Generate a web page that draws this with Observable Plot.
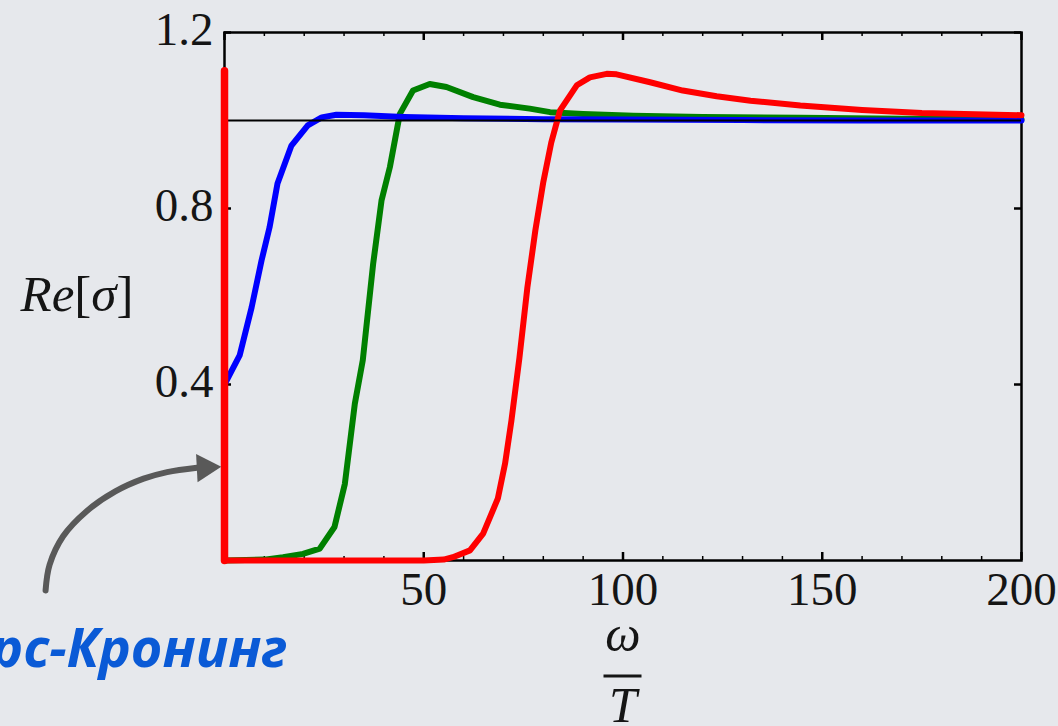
<!DOCTYPE html>
<html>
<head>
<meta charset="utf-8">
<script src="https://cdn.jsdelivr.net/npm/d3@7"></script>
<script src="https://cdn.jsdelivr.net/npm/@observablehq/plot@0.6"></script>
<style>
  html, body { margin: 0; padding: 0; background: #e6e8ec; overflow: hidden; }
  #chart svg { display: block; }
</style>
</head>
<body>
<div id="chart"></div>
<script>
// ---- data ----
const blueX  = [0, 3.8, 6.8, 9.3, 11.3, 13.3, 16.8, 20.9, 24.4, 28.1, 35, 45, 60, 80, 100, 130, 160, 200];
const blueY  = [0.40, 0.466, 0.575, 0.682, 0.757, 0.857, 0.943, 0.989, 1.007, 1.013, 1.012, 1.008, 1.005, 1.003, 1.002, 1.001, 1.0, 1.0];

const greenX = [0, 10, 14.7, 19.7, 23.9, 27.6, 30.2, 32.7, 34.7, 37.3, 39.4, 41.5, 44, 47.3, 51.5, 55.7, 62.4, 69.1, 76.6, 81.7, 90, 102.6, 120, 144.5, 170, 200];
const greenY = [0, 0.002, 0.0075, 0.015, 0.027, 0.076, 0.174, 0.356, 0.455, 0.674, 0.818, 0.894, 1.015, 1.068, 1.083, 1.076, 1.053, 1.036, 1.027, 1.019, 1.015, 1.011, 1.008, 1.006, 1.004, 1.003];

const redX   = [0, 50, 55, 57.3, 61.6, 64.9, 68.6, 70.4, 72, 74, 76, 78, 80, 82, 84.2, 88.4, 91.7, 95.9, 98.4, 106.8, 115, 123.5, 132, 144.5, 160, 175, 200];
const redY   = [0, 0, 0.002, 0.0075, 0.023, 0.061, 0.141, 0.22, 0.318, 0.46, 0.62, 0.75, 0.86, 0.95, 1.023, 1.08, 1.098, 1.106, 1.105, 1.087, 1.068, 1.055, 1.045, 1.034, 1.024, 1.017, 1.012];

// Drude-like delta peak at omega = 0
const deltaX = [0, 0];
const deltaY = [0, 1.113];

const unitLevel = [1];

const xTickLabels = [50, 100, 150, 200];
const xMajorTicks = [0, 50, 100, 150, 200];
const xMinorTicks = [10, 20, 30, 40, 60, 70, 80, 90, 110, 120, 130, 140, 160, 170, 180, 190];
const yTickLabels = [0.4, 0.8, 1.2];

const yLabelText = "Re[σ]";
const xLabelTop = "ω";
const xLabelBottom = "T";
const annotationText = "Крамерс-Кронинг";

// annotation arrow path (data coordinates, outside the frame)
const arrowPathX = [-44.9, -43.9, -40.5, -34.6, -27.4, -20.3, -14.4, -6.9];
const arrowPathY = [-0.068, -0.01, 0.055, 0.112, 0.157, 0.186, 0.201, 0.211];
const arrowHeadX = [-4.9];
const arrowHeadY = [0.211];

// ---- build tables ----
const toRows = (xs, ys) => xs.map((x, i) => ({x, y: ys[i]}));
const blue = toRows(blueX, blueY);
const green = toRows(greenX, greenY);
const red = toRows(redX, redY);
const delta = toRows(deltaX, deltaY);
const arrowPath = toRows(arrowPathX, arrowPathY);
const arrowHead = toRows(arrowHeadX, arrowHeadY);

const W = 1058, H = 726;
const mL = 224, mR = 37, mT = 32, mB = 166;
const fw = W - mL - mR, fh = H - mT - mB;
const serif = "'Liberation Serif', 'DejaVu Serif', serif";
const ink = "#151515";

const chart = Plot.plot({
  width: W,
  height: H,
  marginLeft: mL,
  marginRight: mR,
  marginTop: mT,
  marginBottom: mB,
  style: {background: "transparent", fontFamily: serif, overflow: "visible"},
  x: {domain: [0, 200]},
  y: {domain: [0, 1.2]},
  marks: [
    Plot.frame({stroke: "black", strokeWidth: 2.5}),
    // inward ticks
    Plot.ruleX(xMajorTicks, {x: d => d, insetTop: fh - 8, stroke: "black", strokeWidth: 2.5}),
    Plot.ruleX(xMinorTicks, {x: d => d, insetTop: fh - 4, stroke: "black", strokeWidth: 1.5}),
    Plot.ruleX(xMajorTicks, {x: d => d, insetBottom: fh - 8, stroke: "black", strokeWidth: 2.5}),
    Plot.ruleX(xMinorTicks, {x: d => d, insetBottom: fh - 4, stroke: "black", strokeWidth: 1.5}),
    Plot.ruleY(yTickLabels, {y: d => d, insetRight: fw - 7, stroke: "black", strokeWidth: 2.5}),
    Plot.ruleY(yTickLabels, {y: d => d, insetLeft: fw - 7, stroke: "black", strokeWidth: 2.5}),
    // tick labels
    Plot.axisX({ticks: xTickLabels, tickSize: 0, tickPadding: 11, fontSize: 47, fontFamily: serif, label: null, fill: ink}),
    Plot.axisY({ticks: yTickLabels, tickSize: 0, tickPadding: 11, tickFormat: d3.format(".1f"), fontSize: 47, fontFamily: serif, label: null, dy: -3, fill: ink}),
    // curves
    Plot.line(green, {x: "x", y: "y", stroke: "#008000", strokeWidth: 6, strokeLinejoin: "round"}),
    Plot.line(blue, {x: "x", y: "y", stroke: "#0000ff", strokeWidth: 6, strokeLinejoin: "round"}),
    Plot.line(red, {x: "x", y: "y", stroke: "#ff0000", strokeWidth: 6, strokeLinejoin: "round"}),
    Plot.ruleY(unitLevel, {stroke: "black", strokeWidth: 2}),
    Plot.line(delta, {x: "x", y: "y", stroke: "#ff0000", strokeWidth: 7.5}),
    // axis titles
    Plot.text([yLabelText], {frameAnchor: "left", dx: -204, dy: 14, textAnchor: "start", lineAnchor: "bottom", fontSize: 51, fontFamily: serif, fill: ink}),
    Plot.text([xLabelTop], {frameAnchor: "bottom", dy: 90, lineAnchor: "bottom", fontSize: 50, fontStyle: "italic", fontFamily: serif, fill: ink}),
    Plot.text([xLabelBottom], {frameAnchor: "bottom", dy: 161, lineAnchor: "bottom", fontSize: 50, fontStyle: "italic", fontFamily: serif, fill: ink}),
    // annotation
    Plot.line(arrowPath, {x: "x", y: "y", curve: "catmull-rom", stroke: "#595959", strokeWidth: 6}),
    Plot.dot(arrowHead, {x: "x", y: "y", symbol: "triangle", rotate: 87, r: 10.5, fill: "#595959", stroke: "none"}),
    Plot.text([annotationText], {frameAnchor: "bottom-left", dx: 63, dy: 106, textAnchor: "end", lineAnchor: "bottom", fontSize: 54, fontFamily: "'Open Sans', sans-serif", fontWeight: "bold", fontStyle: "italic", fill: "#0a5ad6"})
  ]
});

document.getElementById("chart").appendChild(chart);

// rich-text for Re[σ]
const svg = d3.select(chart);
svg.selectAll("text").filter(function() { return this.textContent === yLabelText; }).each(function() {
  const t = d3.select(this);
  const target = t.selectAll("tspan").empty() ? t : t.select("tspan");
  const parts = [["R", "italic"], ["e", "italic"], ["[", "normal"], ["σ", "italic"], ["]", "normal"]];
  target.text(null);
  parts.forEach(([s, st]) => target.append("tspan").attr("font-style", st).text(s));
});

// fraction bar for ω / T
const xs = chart.scale("x");
const cx = (xs.range[0] + xs.range[1]) / 2;
svg.append("line")
  .attr("x1", cx - 19).attr("x2", cx + 19)
  .attr("y1", H - mB + 116).attr("y2", H - mB + 116)
  .attr("stroke", ink).attr("stroke-width", 3);
</script>
</body>
</html>
